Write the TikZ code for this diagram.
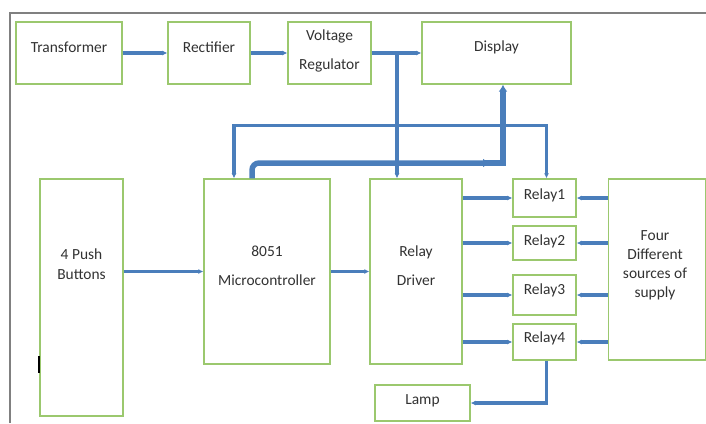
\documentclass[tikz,border=0pt]{standalone}
\usepackage{fontspec}
\setmainfont{Carlito}
\usepackage{xcolor}
\usepackage{tikz}
\usetikzlibrary{arrows.meta,positioning}
\definecolor{boxgreen}{RGB}{155,200,110}
\definecolor{wireblue}{RGB}{74,126,187}
\definecolor{txtgray}{RGB}{50,50,50}

\begin{document}
\begin{tikzpicture}[x=1bp,y=-1bp,
    blk/.style={draw=boxgreen,line width=1.3bp,rectangle,inner sep=0pt},
    txt/.style={text=txtgray,align=center,font=\fontsize{15.5}{20}\selectfont},
    wire/.style={draw=wireblue,line width=3.3bp,-{Latex[length=5bp,width=5bp]}},
    fatwire/.style={draw=wireblue,line width=5.5bp,-{Latex[length=7bp,width=9bp]}}]
    \useasboundingbox (0,0) rectangle (706,423);

    % Frame
    \draw[gray,line width=1.5bp] (10,423) -- (10,13) -- (706,13);

    % Power supply chain
    \node[blk,minimum width=106bp,minimum height=62bp] (trans) at (69,53) {};
    \node[blk,minimum width=82bp,minimum height=62bp] (rect) at (209,53) {};
    \node[blk,minimum width=83bp,minimum height=62bp] (reg) at (329.5,53) {};
    \node[blk,minimum width=149bp,minimum height=62bp] (disp) at (496.5,53) {};
    \node[txt] (transtxt) at (69,47) {Transformer};
    \node[txt] (recttxt) at (209,47) {Rectifier};
    \node[txt,font=\fontsize{15.5}{30}\selectfont] (regtxt) at (329.5,51) {Voltage\\Regulator};
    \node[txt] (disptxt) at (496.5,47) {Display};

    % Controller and driver
    \node[blk,minimum width=83bp,minimum height=237bp] (pb) at (81.5,297.5) {};
    \node[blk,minimum width=126bp,minimum height=185bp] (mc) at (267,271.5) {};
    \node[blk,minimum width=92bp,minimum height=185bp] (drv) at (416,271.5) {};
    \node[txt] (pbtxt) at (81.5,264) {4 Push\\Buttons};
    \node[txt,font=\fontsize{15.5}{29}\selectfont] (mctxt) at (267,266) {8051\\Microcontroller};
    \node[txt,font=\fontsize{15.5}{29}\selectfont] (drvtxt) at (416,266) {Relay\\Driver};

    % Relays
    \node[blk,minimum width=63bp,minimum height=38bp] (r1) at (544.5,198) {};
    \node[blk,minimum width=63bp,minimum height=34bp] (r2) at (544.5,243) {};
    \node[blk,minimum width=63bp,minimum height=40bp] (r3) at (544.5,295) {};
    \node[blk,minimum width=63bp,minimum height=36bp] (r4) at (544.5,342) {};
    \node[txt] (r1txt) at (544.5,195) {Relay1};
    \node[txt] (r2txt) at (544.5,241) {Relay2};
    \node[txt] (r3txt) at (544.5,290) {Relay3};
    \node[txt] (r4txt) at (544.5,338) {Relay4};

    % Supply and load
    \node[blk,minimum width=97bp,minimum height=181bp] (src) at (657,269.5) {};
    \node[txt,font=\fontsize{15.5}{19}\selectfont] (srctxt) at (655,265) {Four\\Different\\sources of\\supply};
    \node[blk,minimum width=95bp,minimum height=36bp] (lamp) at (422.5,403) {};
    \node[txt] (lamptxt) at (422.5,401) {Lamp};

    % Power path
    \draw[wire] (trans.east) -- (rect.west);
    \draw[wire] (rect.east) -- (reg.west);
    \draw[wire] (reg.east) -- (disp.west);
    \coordinate (tap) at (397,53);
    \draw[wire] (tap) -- (tap |- drv.north);

    % Microcontroller links
    \draw[wire,{Latex[length=5bp,width=5bp]}-{Latex[length=5bp,width=5bp]}] ([xshift=-33bp]mc.north) -- ++(0,-53) -| ([xshift=2bp]r1.north);
    \draw[fatwire,rounded corners=7bp] ([xshift=-15bp]mc.north) |- (490,163);
    \coordinate (bend) at (503,163);
    \draw[fatwire] (485,163) -- (bend) -- (bend |- disp.south);
    \draw[wire] (pb.east |- mc.center) -- (mc.west);
    \draw[wire] (mc.east) -- (drv.west);

    % Driver to relays
    \foreach \r in {r1,r2,r3,r4}
        \draw[wire] (drv.east |- \r.center) -- (\r.west);

    % Supplies to relays
    \foreach \r in {r1,r2,r3,r4}
        \draw[wire] (src.west |- \r.center) -- (\r.east);

    % Lamp
    \draw[wire] ([xshift=2bp]r4.south) |- (lamp.east);

    % stray mark
    \draw[black,line width=1.3bp] (39,356) -- (39,373);
\end{tikzpicture}
\end{document}
